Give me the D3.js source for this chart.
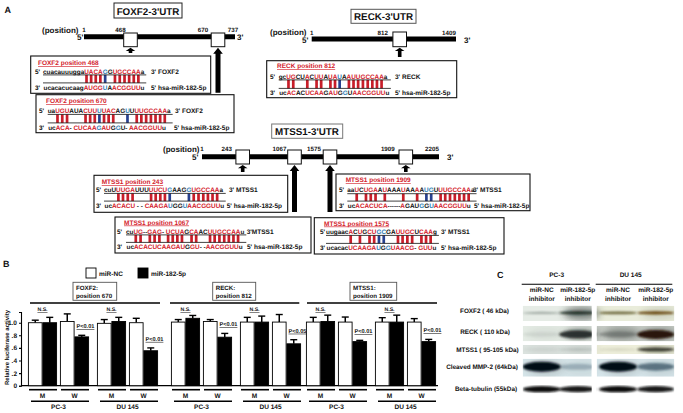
<!DOCTYPE html>
<html>
<head>
<meta charset="utf-8">
<script src="https://cdn.jsdelivr.net/npm/d3@7"></script>
<style>
  html, body { margin: 0; padding: 0; background: #fff; }
  svg { display: block; }
  text { font-family: "Liberation Sans", Arial, sans-serif; font-weight: bold; fill: #111; white-space: pre; text-rendering: geometricPrecision; }
</style>
</head>
<body>
<div id="chart"></div>
<script>
// ---- data: panel A, UTR maps
var utrNames = ["FOXF2-3'UTR", "RECK-3'UTR", "MTSS1-3'UTR"];
var utrPositions = [
    [1, 468, 670, 737],
    [1, 812, 1409],
    [1, 243, 1067, 1575, 1909, 2205]
];
var utrSites = [[468, 670], [812], [243, 1067, 1575, 1909]];

// ---- data: panel A, target site alignments
// mask: | red pair, ! blue (wobble) pair, . unpaired
var siteNames = ["FOXF2 position 468", "FOXF2 position 670", "RECK position 812", "MTSS1 position 243",
    "MTSS1 position 1067", "MTSS1 position 1575", "MTSS1 position 1909"];
var siteTargets = ["3' FOXF2", "3' FOXF2", "3' RECK", "3' MTSS1", "3'MTSS1", "3' MTSS1", "3' MTSS1"];
var siteTop = [
    "cuacauuuggaUACAGGUGCCAAa",
    "uaUGUAUACUUUUACAGUUUUGCCAAa",
    "gcUGCUACUUAUAUAAUUGCCAAa",
    "cuUUUGAUUUUUCUGAAGGUGCCAAa",
    "cuUG--GAG- UCUAGCAACUUGCCAAu",
    "uugaacACUGCUGCGAUUGCUCAAg",
    "aaUCUGAAUAAAUAAAAUGUUUGCCAAa"
];
var siteTopMask = [
    "...........||||!.||||||.",
    "..|||...|||!|||..!.|||||||.",
    "..||..|.||.||!.||||||||.",
    "...||||...||||!...!||||||.",
    "..||..|||..||||.||..|||||||.",
    "......|.|.||!!..||||.|||.",
    "..|.|||.|...|..|.!!.|||||||."
];
var siteBottom = [
    "ucacacucaagAUGGUAACGGUUu",
    "ucACA- CUCAAGAUGGU- AACGGUUu",
    "ucACACUCAAGAUGGUAACGGUUu",
    "ucACACU - - CAAGAUGGUAACGGUUu",
    "ucACACUCAAGAUGGU- -AACGGUUu",
    "ucacacUCAAGAUGGUAACG- GUUu",
    "ucACACUCA------AGAUGGUAACGGUUu"
];
var siteBottomMask = [
    "...........||||!.||||||.",
    "..|||..|||||!||.!...|||||||.",
    "..||..||||.||.!.|||||||.",
    "..|||||.....|||||!..!|||||||.",
    "..|||||||||||.||...|||||||.",
    "......||||||!.!|||||..|||.",
    "..|||||||......|...!.!|||||||."
];
var mirName = "5' hsa-miR-182-5p";

// ---- data: panel B, luciferase bars
var assayLabels = [["FOXF2:", "position 670"], ["RECK:", "position 812"], ["MTSS1:", "position 1909"]];
var cellLines = ["PC-3", "DU 145"];
var constructs = ["M", "W"];
var treatments = ["miR-NC", "miR-182-5p"];
// order inside each panel: PC-3 M nc/182, PC-3 W nc/182, DU M nc/182, DU W nc/182
var barMeans = [
    [1.00, 1.00, 1.02, 0.775, 0.99, 1.02, 1.00, 0.555],
    [1.01, 1.07, 1.02, 0.77, 1.01, 1.01, 1.01, 0.665],
    [1.01, 1.02, 1.01, 0.70, 1.01, 1.01, 1.01, 0.70]
];
var barErrors = [
    [0.04, 0.085, 0.12, 0.025, 0.06, 0.065, 0.07, 0.045],
    [0.04, 0.045, 0.03, 0.06, 0.075, 0.095, 0.12, 0.065],
    [0.075, 0.10, 0.08, 0.02, 0.07, 0.11, 0.055, 0.035]
];
var pLabels = [["P<0.01", "P<0.01"], ["P<0.01", "P<0.05"], ["P<0.01", "P<0.01"]];
var yTicks = [0, 0.2, 0.4, 0.6, 0.8, 1.0];
var yTickLabels = ["0", ".2", ".4", ".6", ".8", "1.0"];

// ---- data: panel C, western blots
var blotRows = ["FOXF2 ( 46 kDa)", "RECK ( 110 kDa)", "MTSS1 ( 95-105 kDa)", "Cleaved MMP-2 (64kDa)", "Beta-tubulin (55kDa)"];
var blotLanes = [["miR-NC", "inhibitor"], ["miR-182-5p", "inhibitor"], ["miR-NC", "inhibitor"], ["miR-182-5p", "inhibitor"]];
var blotDensity = [
    [0.4, 0.95, 0.85, 1.0],
    [0.1, 0.85, 0.35, 1.0],
    [0.1, 0.2, 0.15, 0.85],
    [1.0, 0.3, 1.0, 0.6],
    [1.0, 0.95, 1.0, 0.95]
];
var blotHaze = [
    [0, 0.55, 0, 0.12],
    [0.05, 0.35, 0.35, 0.3],
    [0.05, 0.1, 0, 0.25],
    [0.15, 0.05, 0.15, 0.1],
    [0, 0, 0.05, 0.05]
];
var blotBandTint = [
    ["#3a4a40", "#1b2a22", "#5a5220", "#6a4a10"],
    ["#55605a", "#161f1b", "#3a3f3c", "#2a1408"],
    ["#6a7570", "#5a6560", "#57553a", "#26281c"],
    ["#060a18", "#2c4a60", "#060a18", "#12344a"],
    ["#0a0c0c", "#0a0c0c", "#0a0c0c", "#0a0c0c"]
];
var blotBack = [
    ["#e6ece6", "#e9ecda"],
    ["#e4ebe4", "#c9cec8"],
    ["#dbe2de", "#ecedd9"],
    ["#d5e4e8", "#d6e5ea"],
    ["#ffffff", "#ffffff"]
];

// ---- layout
var width = 683, height = 413;
var red = "#d3222c", redPair = "#c81e2a", bluePair = "#27418f", blueText = "#2c7db5";

var utrLayout = [
    {box: [114, 3, 182, 18], tx: 148, ty: 14.5, line: 36.7, x5: 77, x3: 237, posX: 42, posY: 33, range: [84, 130.5, 218, 235], dx: [0, -10, -15, -2], lblY: 31.5, sq: [33, 46.7], stroke: "#222"},
    {box: [351, 9.3, 416, 23.3], tx: 383.5, ty: 20, line: 39, x5: 302, x3: 464, posX: 270, posY: 35, range: [311.7, 399.7, 456], dx: [0, -17, -7], lblY: 34.5, sq: [32, 46.7], stroke: "#555"},
    {box: [271.7, 124, 342.7, 138.3], tx: 307, ty: 134.7, line: 156.7, x5: 192, x3: 447, posX: 163, posY: 152, range: [202, 242.7, 294.5, 330, 405.8, 439], dx: [0, -16, -15, -16, -18, -7], lblY: 151, sq: [150, 164], stroke: "#777"}
];
// arrow bottom per UTR site: short arrow points at the box, long one runs down to it
var arrowEnds = [[53, 92.7], [57], [172, 212, 212, 172]];

var siteLayout = [
    {box: [30.7, 56, 210.7, 93.3], lx: 38, ly: 65, px: 35, sx: 43, ty: 73.5, by: 89.5, rx: 151, rbx: 151},
    {box: [36, 94.7, 234, 132.7], lx: 46, ly: 103, px: 39, sx: 47.7, ty: 113, by: 129.5, rx: 175, rbx: 174},
    {box: [266.7, 60.7, 456.7, 97.7], lx: 277, ly: 68, px: 270, sx: 278.7, ty: 78.5, by: 95, rx: 395, rbx: 395},
    {box: [94, 175.3, 287.7, 212.3], lx: 101.7, ly: 184, px: 96, sx: 104, ty: 192, by: 207.7, rx: 229, rbx: 226.7},
    {box: [115, 217, 311, 253], lx: 124, ly: 224.5, px: 117, sx: 126, ty: 233.5, by: 249, rx: 246.7, rbx: 247},
    {box: [314.3, 217.7, 504, 254], lx: 324, ly: 225.5, px: 320, sx: 326, ty: 234, by: 250, rx: 441, rbx: 441},
    {box: [336, 174, 530, 210.7], lx: 345.7, ly: 182, px: 339, sx: 347.3, ty: 192.3, by: 207.7, rx: 473, rbx: 474}
];

var panelLeft = [28, 171, 306], panelWidth = 130;
var panelLine = [[30, 160], [170, 299.3], [307, 437]];
var assayBox = [[73, 116.7], [212.7, 255.7], [350, 396.7]];

var svg = d3.select("#chart").append("svg")
    .attr("width", width)
    .attr("height", height);

var defs = svg.append("defs");
defs.append("filter")
    .attr("id", "soft")
    .attr("x", "-30%").attr("y", "-80%").attr("width", "160%").attr("height", "260%")
    .append("feGaussianBlur").attr("stdDeviation", 1.1);
defs.append("filter")
    .attr("id", "haze")
    .attr("x", "-50%").attr("y", "-100%").attr("width", "200%").attr("height", "300%")
    .append("feGaussianBlur").attr("stdDeviation", 3.5);

function label(parent, x, y, str, size, anchor) {
    return parent.append("text")
        .attr("x", x)
        .attr("y", y)
        .attr("font-size", size)
        .attr("text-anchor", anchor || "start")
        .text(str);
}

// panel letters
label(svg, 4.5, 13, "A", 9);
label(svg, 3, 267, "B", 9);
label(svg, 497, 278, "C", 9);

// ---- panel A: UTR maps
function drawUtr(i) {
    var lay = utrLayout[i];
    var g = svg.append("g");
    var x = d3.scaleLinear().domain(utrPositions[i]).range(lay.range);
    var ends = d3.extent(utrPositions[i]);

    g.append("rect")
        .attr("x", lay.box[0]).attr("y", lay.box[1])
        .attr("width", lay.box[2] - lay.box[0]).attr("height", lay.box[3] - lay.box[1])
        .attr("fill", "#fff").attr("stroke", lay.stroke).attr("stroke-width", 1);
    label(g, lay.tx, lay.ty, utrNames[i], 9.8, "middle");

    label(g, lay.posX, lay.posY, "(position)", 8);
    label(g, lay.x5, lay.line + 3.5, "5'", 8);
    label(g, lay.x3, lay.line + 3.5, "3'", 8);

    g.append("line")
        .attr("x1", x(ends[0])).attr("x2", x(ends[1]))
        .attr("y1", lay.line).attr("y2", lay.line)
        .attr("stroke", "#000").attr("stroke-width", 5);

    g.selectAll("text.pos").data(utrPositions[i]).enter().append("text")
        .attr("class", "pos")
        .attr("x", function (d, k) { return x(d) + lay.dx[k]; })
        .attr("y", lay.lblY)
        .attr("font-size", 6.2)
        .attr("text-anchor", "middle")
        .text(function (d) { return d; });

    g.selectAll("rect.site").data(utrSites[i]).enter().append("rect")
        .attr("class", "site")
        .attr("x", function (d) { return x(d) - 6.8; })
        .attr("y", lay.sq[0])
        .attr("width", 13.6)
        .attr("height", lay.sq[1] - lay.sq[0])
        .attr("fill", "#fff").attr("stroke", "#111").attr("stroke-width", 1);

    // arrows from the box up to each site
    g.selectAll("path.arrow").data(utrSites[i]).enter().append("path")
        .attr("class", "arrow")
        .attr("fill", "#000")
        .attr("d", function (d, k) {
            var cx = x(d), top = lay.sq[1] + 1, bottom = arrowEnds[i][k];
            var long = bottom - top > 15;
            var shaft = long ? 2.5 : 1.8, head = 4.8, hh = long ? 6 : 3.2;
            return d3.line()([[cx, top], [cx + head, top + hh], [cx + shaft, top + hh], [cx + shaft, bottom],
                [cx - shaft, bottom], [cx - shaft, top + hh], [cx - head, top + hh]]) + "Z";
        });
}
utrNames.forEach(function (d, i) { drawUtr(i); });

// ---- panel A: alignments
function maskColour(c) {
    return c === "|" ? red : c === "!" ? blueText : "#111";
}

// split a sequence into runs that share one colour
function seqRuns(seq, mask) {
    var runs = [];
    seq.split("").forEach(function (ch, k) {
        var c = maskColour(mask[k] || ".");
        if (runs.length && runs[runs.length - 1].colour === c) runs[runs.length - 1].str += ch;
        else runs.push({str: ch, colour: c});
    });
    return runs;
}

function seqText(g, x, y, seq, mask) {
    var t = g.append("text").attr("x", x).attr("y", y).attr("font-size", 6.4);
    t.selectAll("tspan").data(seqRuns(seq, mask)).enter().append("tspan")
        .style("fill", function (d) { return d.colour; })
        .text(function (d) { return d.str; });
    return t;
}

function drawSite(i) {
    var lay = siteLayout[i];
    var g = svg.append("g");

    g.append("rect")
        .attr("x", lay.box[0]).attr("y", lay.box[1])
        .attr("width", lay.box[2] - lay.box[0]).attr("height", lay.box[3] - lay.box[1])
        .attr("fill", "#fff").attr("stroke", "#111").attr("stroke-width", 1.1);

    label(g, lay.lx, lay.ly, siteNames[i], 6.5)
        .style("fill", red)
        .style("text-decoration", "underline");

    label(g, lay.px, lay.ty, "5'", 6.4);
    label(g, lay.px, lay.by, "3'", 6.4);
    var top = seqText(g, lay.sx, lay.ty, siteTop[i], siteTopMask[i]);
    var bottom = seqText(g, lay.sx + 0.5, lay.by, siteBottom[i], siteBottomMask[i]);
    label(g, lay.rx, lay.ty, siteTargets[i], 6.5);
    label(g, lay.rbx, lay.by, mirName, 6.5);

    var y1 = lay.ty + 1.4, y2 = lay.by - 6.6;
    var node = top.node();
    var pairs = [];
    siteTopMask[i].split("").forEach(function (c, k) {
        if (c === ".") return;
        pairs.push({
            x: (node.getStartPositionOfChar(k).x + node.getEndPositionOfChar(k).x) / 2,
            colour: c === "|" ? redPair : bluePair
        });
    });
    g.selectAll("line.pair").data(pairs).enter().append("line")
        .attr("class", "pair")
        .attr("x1", function (d) { return d.x; })
        .attr("x2", function (d) { return d.x; })
        .attr("y1", y1).attr("y2", y2)
        .attr("stroke", function (d) { return d.colour; })
        .attr("stroke-width", 2.7);

    var xEnd = Math.max(node.getComputedTextLength(), bottom.node().getComputedTextLength()) + lay.sx + 2;
    [y1, y2].forEach(function (y) {
        g.append("line")
            .attr("x1", lay.sx).attr("x2", xEnd)
            .attr("y1", y).attr("y2", y)
            .attr("stroke", "#111").attr("stroke-width", 0.8);
    });
}
siteNames.forEach(function (d, i) { drawSite(i); });

// ---- panel B: bars
var y = d3.scaleLinear().domain([0, 1.17]).range([385.7, 312]);
var xCell = d3.scaleBand().domain(cellLines).range([0, panelWidth]).paddingInner(0.116);
var xPair = d3.scaleBand().domain(constructs).range([0, xCell.bandwidth()]).paddingInner(0.094);
var xBar = d3.scaleBand().domain(treatments).range([0, xPair.bandwidth()]);

var chart = svg.append("g");

chart.append("g")
    .attr("transform", "translate(21,0)")
    .call(d3.axisLeft(y).tickValues(yTicks).tickSize(2)
        .tickFormat(function (d, i) { return yTickLabels[i]; }))
    .call(function (a) {
        a.selectAll("path, line").attr("stroke", "#000").attr("stroke-width", 1.1);
        a.selectAll("text")
            .attr("font-family", null)
            .attr("font-size", 6.5)
            .attr("x", -4);
    });

chart.append("line")
    .attr("x1", 21).attr("x2", 438)
    .attr("y1", y(0)).attr("y2", y(0))
    .attr("stroke", "#000").attr("stroke-width", 1.3);

label(chart, 0, 0, "Relative luciferase activity", 6, "middle")
    .attr("transform", "translate(8.5,347.5) rotate(-90)");

// legend
treatments.forEach(function (d, i) {
    chart.append("rect")
        .attr("x", [86, 138][i]).attr("y", 268)
        .attr("width", 10).attr("height", 10)
        .attr("fill", i ? "#000" : "#fff")
        .attr("stroke", "#000").attr("stroke-width", 0.9);
    label(chart, [99, 151][i], 275.5, d, 6.5);
});

assayLabels.forEach(function (lines, p) {
    var g = chart.append("g").attr("transform", "translate(" + panelLeft[p] + ",0)");

    // assay label box and rule on top
    chart.append("rect")
        .attr("x", assayBox[p][0]).attr("y", 282.3)
        .attr("width", assayBox[p][1] - assayBox[p][0]).attr("height", 18)
        .attr("fill", "#fff").attr("stroke", "#555").attr("stroke-width", 0.9);
    lines.forEach(function (s, k) {
        label(chart, assayBox[p][0] + 3, 290 + k * 8, s, 6.2);
    });
    chart.append("line")
        .attr("x1", panelLine[p][0]).attr("x2", panelLine[p][1])
        .attr("y1", 303).attr("y2", 303)
        .attr("stroke", "#000").attr("stroke-width", 1.7);

    // one entry per bar, keeps the flat value arrays readable
    var bars = [];
    cellLines.forEach(function (c, ci) {
        constructs.forEach(function (m, mi) {
            treatments.forEach(function (t, ti) {
                var n = ci * 4 + mi * 2 + ti;
                bars.push({cell: c, con: m, tr: t, ti: ti, mean: barMeans[p][n], err: barErrors[p][n]});
            });
        });
    });
    function barX(d) { return xCell(d.cell) + xPair(d.con) + xBar(d.tr); }

    g.selectAll("line.err").data(bars).enter().append("line")
        .attr("class", "err")
        .attr("x1", function (d) { return barX(d) + xBar.bandwidth() / 2; })
        .attr("x2", function (d) { return barX(d) + xBar.bandwidth() / 2; })
        .attr("y1", function (d) { return y(d.mean); })
        .attr("y2", function (d) { return y(d.mean + d.err); })
        .attr("stroke", "#000").attr("stroke-width", 1.5);
    g.selectAll("line.cap").data(bars).enter().append("line")
        .attr("class", "cap")
        .attr("x1", function (d) { return barX(d) + xBar.bandwidth() / 2 - 3.5; })
        .attr("x2", function (d) { return barX(d) + xBar.bandwidth() / 2 + 3.5; })
        .attr("y1", function (d) { return y(d.mean + d.err); })
        .attr("y2", function (d) { return y(d.mean + d.err); })
        .attr("stroke", "#000").attr("stroke-width", 1.4);
    g.selectAll("rect.bar").data(bars).enter().append("rect")
        .attr("class", "bar")
        .attr("x", function (d) { return barX(d) + 0.4; })
        .attr("y", function (d) { return y(d.mean); })
        .attr("width", xBar.bandwidth() - 0.8)
        .attr("height", function (d) { return y(0) - y(d.mean); })
        .attr("fill", function (d) { return d.ti ? "#000" : "#fff"; })
        .attr("stroke", "#000").attr("stroke-width", 0.9);

    cellLines.forEach(function (c, ci) {
        var cx = xCell(c);
        constructs.forEach(function (m) {
            var px = cx + xPair(m);
            g.append("line")
                .attr("x1", px + 1).attr("x2", px + xPair.bandwidth())
                .attr("y1", 389.7).attr("y2", 389.7)
                .attr("stroke", "#000").attr("stroke-width", 1.6);
            label(g, px + xPair.bandwidth() / 2, 397.7, m, 6.5, "middle");
        });
        g.append("line")
            .attr("x1", cx + 3).attr("x2", cx + xCell.bandwidth())
            .attr("y1", 401.3).attr("y2", 401.3)
            .attr("stroke", "#000").attr("stroke-width", 1.6);
        label(g, cx + xCell.bandwidth() / 2, 409.2, c, 6.5, "middle");

        // significance: N.S. over the mutant pair, p value over the miR bar of the wild type
        label(g, cx + xPair("M") + xPair.bandwidth() / 2, 311.2, "N.S.", 5.2, "middle")
            .style("text-decoration", "underline");
        var wt = ci * 4 + 3;
        label(g, cx + xPair("W") + xBar("miR-182-5p") + 2, y(barMeans[p][wt] + barErrors[p][wt]) - 7, pLabels[p][ci], 5.6)
            .style("text-decoration", "underline");
    });
});

// ---- panel C: blots
var blotTop = [305.7, 326, 345, 358.7, 385], blotBottom = [321, 341.3, 354, 376.7, 393.3];
var blotHalves = [[522.7, 591.7], [596.7, 674.3]];
var blotCentres = [541.7, 577.7, 618, 655.7];
var blotLabelX = [484.5, 485, 487.5, 482, 486];
var blotLabelY = [312.6, 333.5, 352, 369, 390.5];
var blotCy = [0.47, 0.55, 0.5, 0.45, 0.5];   // band centre inside the row
var blotThin = [1.6, 4.5, 2.2, 5, 3.2];      // band half height at full density

var blots = svg.append("g");

label(blots, 556.7, 277, cellLines[0], 6.5, "middle");
label(blots, 630.7, 277, cellLines[1], 6.5, "middle");
blotHalves.forEach(function (h) {
    blots.append("line")
        .attr("x1", h[0] - 1).attr("x2", h[1] - 2)
        .attr("y1", 284.3).attr("y2", 284.3)
        .attr("stroke", "#000").attr("stroke-width", 1.1);
});
blotLanes.forEach(function (lines, l) {
    lines.forEach(function (s, k) {
        label(blots, blotCentres[l], 292.3 + k * 8.3, s, 6.5, "middle");
    });
});

blotRows.forEach(function (name, r) {
    label(blots, blotLabelX[r], blotLabelY[r], name, 6.4, "middle");

    var h = blotBottom[r] - blotTop[r];
    var clipId = "row" + r;
    blots.append("clipPath").attr("id", clipId)
        .selectAll("rect").data(blotHalves).enter().append("rect")
        .attr("x", function (d) { return d[0]; })
        .attr("y", blotTop[r])
        .attr("width", function (d) { return d[1] - d[0]; })
        .attr("height", h);

    var row = blots.append("g").attr("clip-path", "url(#" + clipId + ")");
    row.selectAll("rect").data(blotHalves).enter().append("rect")
        .attr("x", function (d) { return d[0]; })
        .attr("y", blotTop[r])
        .attr("width", function (d) { return d[1] - d[0]; })
        .attr("height", h)
        .attr("fill", function (d, k) { return blotBack[r][k]; });

    row.selectAll("ellipse.hz").data(blotHaze[r]).enter().append("ellipse")
        .attr("class", "hz")
        .attr("cx", function (d, k) { return blotCentres[k] + 4; })
        .attr("cy", blotTop[r] + h * 0.5)
        .attr("rx", 18)
        .attr("ry", h * 0.45)
        .attr("fill", "#2a332e")
        .attr("opacity", function (d) { return d; })
        .attr("filter", "url(#haze)");

    var bandH = d3.scaleLinear().domain([0, 1]).range([blotThin[r] * 0.45, blotThin[r]]);
    row.selectAll("ellipse.band").data(blotDensity[r]).enter().append("ellipse")
        .attr("class", "band")
        .attr("cx", function (d, k) { return blotCentres[k]; })
        .attr("cy", blotTop[r] + h * blotCy[r])
        .attr("rx", function (d, k) { return k % 2 ? 18.5 : 19; })
        .attr("ry", function (d) { return bandH(d); })
        .attr("fill", function (d, k) { return blotBandTint[r][k]; })
        .attr("opacity", function (d) { return d; })
        .attr("filter", "url(#soft)");
});
</script>
</body>
</html>
